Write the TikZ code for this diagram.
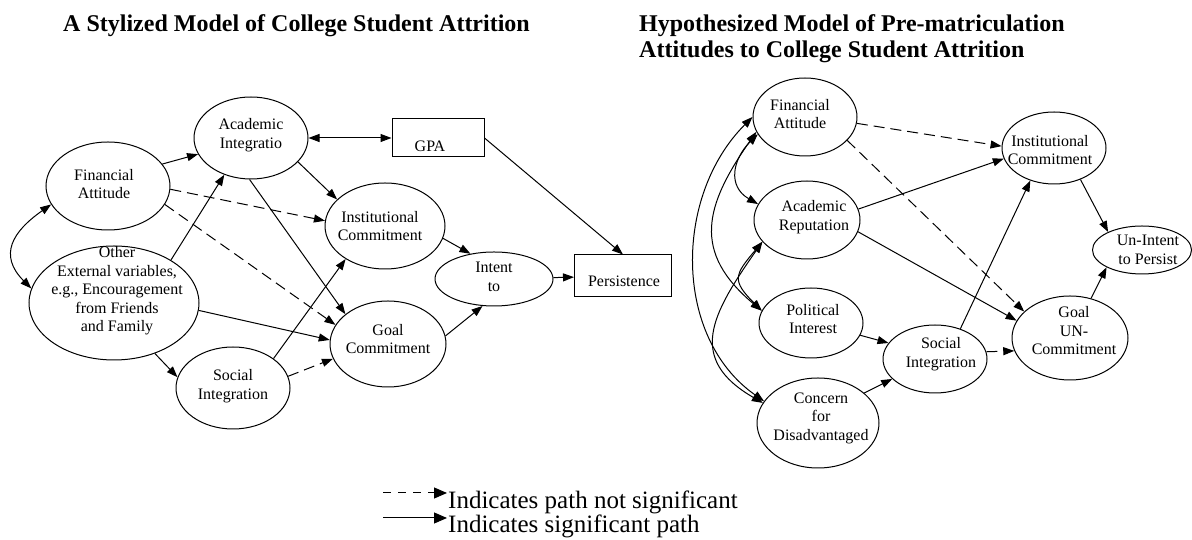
\documentclass[tikz,border=0pt]{standalone}
\usepackage{fontspec}
\setmainfont{Liberation Serif}
\usetikzlibrary{shapes.geometric, arrows.meta}

\tikzset{
  var/.style={ellipse, draw, line width=1pt, inner sep=0pt},
  obs/.style={rectangle, draw, line width=1pt, inner sep=0pt},
  txt/.style={align=center, font=\fontsize{16}{18.5}\selectfont, inner sep=0pt},
  sig/.style={line width=1pt, -{Triangle[length=11pt, width=8pt]}},
  nsig/.style={sig, dash pattern=on 11pt off 6pt},
  corr/.style={line width=1pt, {Triangle[length=11pt, width=8pt]}-{Triangle[length=11pt, width=8pt]}},
  ttl/.style={font=\fontsize{24}{26}\selectfont\bfseries, align=left, inner sep=0pt},
  lgd/.style={font=\fontsize{25}{24}\selectfont, inner sep=0pt}
}

\begin{document}
\begin{tikzpicture}[x=1pt, y=1pt]
\useasboundingbox (0,0) rectangle (1192,540);

% titles
\node[ttl, anchor=base west] (ttlA) at (63,508) {A Stylized Model of College Student Attrition};
\node[ttl, anchor=north west] (ttlB) at (639,526) {Hypothesized Model of Pre-matriculation\\Attitudes to College Student Attrition};

% stylized model
\node[var, minimum width=114pt, minimum height=82pt, label={[txt, yshift=3pt]center:Academic\\Integratio}] (ai) at (251,402) {};
\node[obs, minimum width=92pt, minimum height=38pt, label={[txt, xshift=-8pt, yshift=-8pt]center:GPA}] (gpa) at (438,402) {};
\node[var, minimum width=124pt, minimum height=88pt, label={[txt, xshift=-4pt, yshift=2pt]center:Financial\\Attitude}] (fa) at (108,354) {};
\node[var, minimum width=120pt, minimum height=86pt, label={[txt, xshift=-5pt]center:Institutional\\Commitment}] (ic) at (385,314) {};
\node[var, minimum width=118pt, minimum height=54pt, label={[txt, yshift=2pt]center:Intent\\to}] (int) at (494,261) {};
\node[obs, minimum width=97pt, minimum height=42pt, label={[txt, xshift=1pt, yshift=-5pt]center:Persistence}] (per) at (623,264) {};
\node[var, minimum width=170pt, minimum height=114pt, label={[txt, xshift=3pt, yshift=12pt]center:Other\\External variables,\\e.g., Encouragement\\from Friends\\and Family}] (oth) at (114,237) {};
\node[var, minimum width=116pt, minimum height=86pt, label={[txt, yshift=5pt]center:Goal\\Commitment}] (gc) at (388,196) {};
\node[var, minimum width=114pt, minimum height=82pt, label={[txt, yshift=2pt]center:Social\\Integration}] (si) at (233,152) {};

\draw[sig] (fa.22) -- (ai.197);
\draw[corr] (ai.east) -- (gpa.west);
\draw[sig] (ai.-27) -- (ic.151);
\draw[sig] (ai.-92) -- (gc.145);
\draw[nsig] (fa.-3) -- (ic.175);
\draw[nsig] (fa.-18) -- (gc.160);
\draw[sig] (oth.37) -- (ai.234);
\draw[sig] (oth.-5) -- (gc.176);
\draw[sig] (oth.-51) -- (si.169);
\draw[sig] (si.36) -- (ic.220);
\draw[nsig] (si.12) -- (gc.195);
\draw[sig] (ic.-12) -- (int.133);
\draw[sig] (gc.8) -- (int.247);
\draw[sig] (gpa.east) -- (per.north);
\draw[sig] (int) -- (per);
\draw[corr] (fa.198) to[out=215, in=135, looseness=1.4] (oth.170);

% hypothesized model
\node[var, minimum width=104pt, minimum height=78pt, label={[txt, xshift=-5pt, yshift=3pt]center:Financial\\Attitude}] (far) at (805,423) {};
\node[var, minimum width=104pt, minimum height=72pt, label={[txt, xshift=-4pt, yshift=-2pt]center:Institutional\\Commitment}] (icr) at (1054,392) {};
\node[var, minimum width=106pt, minimum height=78pt, label={[txt, xshift=7pt, yshift=3pt]center:Academic\\Reputation}] (ar) at (807,320) {};
\node[var, minimum width=99pt, minimum height=48pt, label={[txt, xshift=6pt]center:Un-Intent\\to Persist}] (uip) at (1142,290) {};
\node[var, minimum width=104pt, minimum height=70pt, label={[txt, xshift=2pt, yshift=4pt]center:Political\\Interest}] (pi) at (811,217) {};
\node[var, minimum width=104pt, minimum height=68pt, label={[txt, xshift=6pt, yshift=5pt]center:Social\\Integration}] (sir) at (935,181) {};
\node[var, minimum width=116pt, minimum height=84pt, label={[txt, xshift=4pt, yshift=7pt]center:Goal\\UN-\\Commitment}] (guc) at (1070,202) {};
\node[var, minimum width=122pt, minimum height=90pt, label={[txt, xshift=3pt, yshift=5pt]center:Concern\\for\\Disadvantaged}] (cd) at (818,117) {};

\draw[nsig] (far.-7) -- (icr.178);
\draw[nsig] (far.-29) -- (guc.150);
\draw[sig] (ar.12) -- (icr.192);
\draw[sig] (ar.-13) -- (guc.162);
\draw[sig] (sir.50) -- (icr.234);
\draw[sig] (icr.-50) -- (uip.152);
\draw[sig] (guc.62) -- (uip.206);
\draw[sig] (pi.-14) -- (sir.161);
\draw[sig] (cd.33) -- (sir.205);
\draw[nsig] (sir.8) -- (guc.193);
\draw[corr] (far.200) to[out=225, in=150, looseness=1.3] (ar.162);
\draw[corr] (far.197) to[out=235, in=140, looseness=1.3] (pi.166);
\draw[corr] (far.180) to[out=225, in=145] (cd.158);
\draw[corr] (ar.206) to[out=230, in=135, looseness=1.6] (pi.166);
\draw[corr] (ar.206) to[out=235, in=150, looseness=1.4] (cd.160);

% legend
\coordinate (nsA) at (383,47);
\coordinate (nsB) at (447,47);
\coordinate (sgA) at (383,22);
\coordinate (sgB) at (447,22);
\draw[line width=1pt, dash pattern=on 8pt off 7pt, -{Triangle[length=13pt, width=11pt]}] (nsA) -- (nsB);
\draw[line width=1pt, -{Triangle[length=13pt, width=11pt]}] (sgA) -- (sgB);
\node[lgd, anchor=base west] (lgdA) at (448,31) {Indicates path not significant};
\node[lgd, anchor=base west] (lgdB) at (448,7) {Indicates significant path};
\end{tikzpicture}
\end{document}
